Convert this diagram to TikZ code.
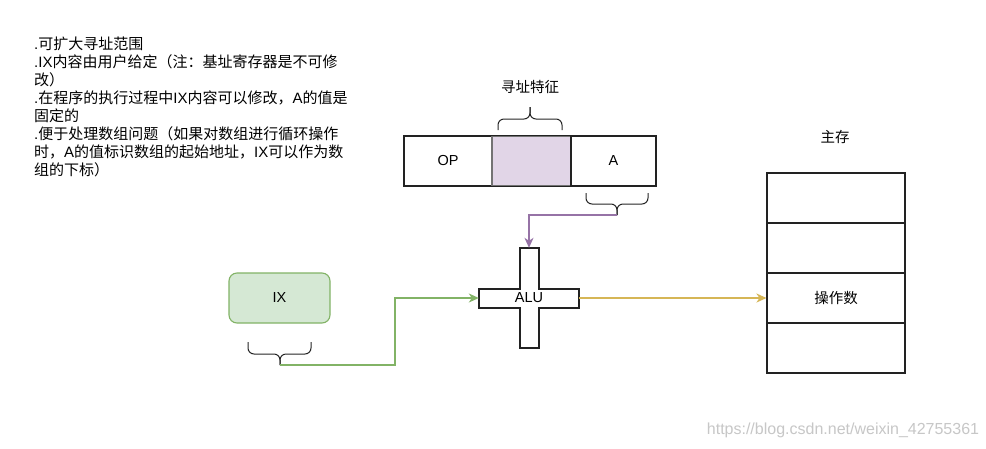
\documentclass[tikz,border=0pt]{standalone}
\usepackage{fontspec}
\setmainfont{Noto Sans CJK SC}
\newfontfamily\latinfont{Liberation Sans}
\newcommand\latx[1]{{\latinfont #1}}
\usetikzlibrary{arrows.meta}
\definecolor{purpleS}{HTML}{9673A6}
\definecolor{purpleF}{HTML}{E1D5E7}
\definecolor{greenS}{HTML}{82B366}
\definecolor{greenF}{HTML}{D5E8D4}
\definecolor{yellowS}{HTML}{D6B656}
\definecolor{boxS}{HTML}{222222}
\tikzset{
  txt/.style={font=\fontsize{14.5}{18}\selectfont, inner sep=0pt},
  note/.style={inner sep=0pt, font=\fontsize{15}{18}\selectfont, anchor=west, text height=11pt, text depth=3pt},
  cell/.style={draw=boxS, line width=1.1pt, minimum height=50pt, inner sep=0pt, txt},
  memrow/.style={draw=boxS, line width=1.1pt, minimum width=138pt, minimum height=50pt, inner sep=0pt, txt},
  bracepath/.style={draw=black!85, line width=1pt, rounded corners=6pt},
  tip/.style={-{Stealth[length=10pt,width=9pt,inset=3pt]}},
  conn/.style={line width=1.3pt},
}
\begin{document}
\begin{tikzpicture}[x=1pt,y=-1pt]
\useasboundingbox (0,0) rectangle (986,448);
\fill[white] (0,0) rectangle (986,448);

% notes
\node[note] (t1) at (34,45.5) {\latx{.}可扩大寻址范围};
\node[note] (t2) at (34,63.5) {\latx{.IX}内容由用户给定（注：基址寄存器是不可修};
\node[note] (t3) at (34,81.6) {改）};
\node[note] (t4) at (34,99.6) {\latx{.}在程序的执行过程中\latx{IX}内容可以修改，\latx{A}的值是};
\node[note] (t5) at (34,117.7) {固定的};
\node[note] (t6) at (34,135.7) {\latx{.}便于处理数组问题（如果对数组进行循环操作};
\node[note] (t7) at (34,153.8) {时，\latx{A}的值标识数组的起始地址，\latx{IX}可以作为数};
\node[note] (t8) at (34,171.8) {组的下标）};

% instruction
\node[txt] (feat) at (530,87) {寻址特征};
\node[cell, minimum width=88pt] (op) at (448,161) {\latx{OP}};
\node[cell, minimum width=79pt, fill=purpleF, draw=black!55] (mode) at (531.5,161) {};
\node[cell, minimum width=85pt] (a) at (613.5,161) {\latx{A}};
\draw[boxS, line width=1.1pt] (op.north west) rectangle (a.south east);

% braces
\coordinate (bTop) at (530,107);
\draw[bracepath] (498,130) -- (498,119) -- (530,119) -- (bTop);
\draw[bracepath] (562,130) -- (562,119) -- (530,119) -- (bTop);
\coordinate (bA) at (617,215);
\draw[bracepath] (586,193) -- (586,204) -- (617,204) -- (bA);
\draw[bracepath] (648,193) -- (648,204) -- (617,204) -- (bA);
\coordinate (bIX) at (280,365);
\draw[bracepath] (248,342) -- (248,354) -- (280,354) -- (bIX);
\draw[bracepath] (311,342) -- (311,354) -- (280,354) -- (bIX);

% IX
\node[txt, draw=greenS, fill=greenF, line width=1.1pt, rounded corners=8pt,
      minimum width=101pt, minimum height=50pt] (ix) at (279.5,298) {\latx{IX}};

% ALU cross
\draw[boxS, line width=1.1pt, fill=white]
  (520,248) -- (539,248) -- (539,289) -- (579,289) -- (579,308) -- (539,308)
  -- (539,348) -- (520,348) -- (520,308) -- (479,308) -- (479,289) -- (520,289) -- cycle;
\node[txt, minimum width=100pt, minimum height=100pt] (alu) at (529,298) {\latx{ALU}};

% memory
\node[txt] (mainmem) at (835,137) {主存};
\node[memrow] (m1) at (836,198) {};
\node[memrow] (m2) at (836,248) {};
\node[memrow] (m3) at (836,298) {操作数};
\node[memrow] (m4) at (836,348) {};

% connectors
\draw[conn, purpleS, tip] (bA) -| (alu.north);
\coordinate (g1) at (395,298);
\draw[conn, greenS, tip] (bIX) -| (g1) -- (alu.west);
\draw[conn, yellowS, tip] (alu.east) -- (m3.west);

% watermark
\node[txt, text=black!22, font=\latinfont\fontsize{16}{18}\selectfont] (wm) at (843,430) {https://blog.csdn.net/weixin\_42755361};
\end{tikzpicture}
\end{document}
